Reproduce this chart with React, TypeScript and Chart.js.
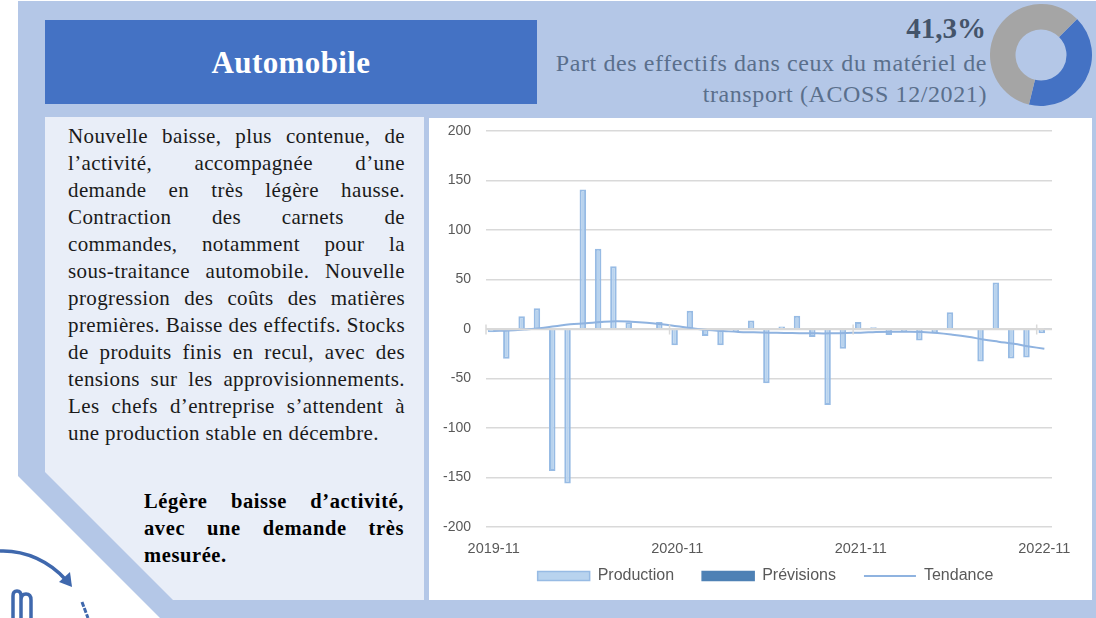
import React, { useEffect, useRef } from "react";
import { Chart, registerables } from "chart.js";

Chart.register(...registerables);

const months = [
  "2019-11","2019-12","2020-01","2020-02","2020-03","2020-04","2020-05","2020-06","2020-07","2020-08","2020-09","2020-10",
  "2020-11","2020-12","2021-01","2021-02","2021-03","2021-04","2021-05","2021-06","2021-07","2021-08","2021-09","2021-10",
  "2021-11","2021-12","2022-01","2022-02","2022-03","2022-04","2022-05","2022-06","2022-07","2022-08","2022-09","2022-10",
  "2022-11",
];
const production = [
  -3.4, -30, 13, 21, -143.5, -156, 141, 81, 63.5, 6.7, -1, 7, -16.5, 18.5, -7, -16.5, -3, 8.6,
  -54.7, 2.5, 13.5, -8, -76.7, -20, 7, 1.7, -6, -2.7, -11.5, -4.4, 17, -1, -32.8, 47, -29.7, -28.7, -4.4,
];
const previsions = [
  null,null,null,null,null,null,null,null,null,null,null,null,null,null,null,null,null,null,
  null,null,null,null,null,null,null,null,null,null,null,null,null,null,null,null,null,null,1,
];
const tendance = [
  -2, -1.5, -0.5, 0.7, 2.7, 4.7, 5.7, 7, 7.8, 7.4, 6.4, 4.7, 2.7, 0.7, -1, -2, -3, -3.4,
  -3.7, -4, -4.2, -4.4, -4.4, -4, -3.7, -3, -2.7, -2.7, -3, -4, -5.7, -7.8, -10.5, -12.8, -15, -17.6, -20,
];
const yTicks = { min: -200, max: 200, step: 50 };
const shareLabels = ["Automobile", "Autre matériel de transport"];
const shareValues = [41.3, 58.7];

const bodyLines = [
  "Nouvelle baisse, plus contenue, de",
  "l’activité, accompagnée d’une",
  "demande en très légère hausse.",
  "Contraction des carnets de",
  "commandes, notamment pour la",
  "sous-traitance automobile. Nouvelle",
  "progression des coûts des matières",
  "premières. Baisse des effectifs. Stocks",
  "de produits finis en recul, avec des",
  "tensions sur les approvisionnements.",
  "Les chefs d’entreprise s’attendent à",
  "une production stable en décembre.",
];
const conclusionLines = ["Légère baisse d’activité,", "avec une demande très", "mesurée."];

const SERIF = '"Liberation Serif", serif';
const SANS = '"Liberation Sans", Arial, sans-serif';
const GREY = "#595959";
const LINE = "#d9d9d9";

const axisMarks = {
  id: "axisMarks",
  afterDatasetsDraw(chart: any) {
    const { ctx, scales } = chart;
    const x = scales.x;
    const y0 = Math.round(scales.y.getPixelForValue(0)) + 0.5;
    const half = (x.getPixelForValue(1) - x.getPixelForValue(0)) / 2;
    ctx.save();
    ctx.strokeStyle = LINE;
    ctx.lineWidth = 1.5;
    ctx.beginPath();
    ctx.moveTo(x.left, y0);
    ctx.lineTo(x.right, y0);
    [0, 12, 24, 36].forEach((i) => {
      const px = x.getPixelForValue(i) - half;
      ctx.moveTo(px, y0 - 5);
      ctx.lineTo(px, y0 + 5);
    });
    ctx.stroke();
    ctx.restore();
  },
};

const legendShift = {
  id: "legendShift",
  afterLayout(chart: any) {
    const l = chart.legend;
    l.top -= 17;
    l.bottom -= 17;
    l.left += 25;
    l.right += 25;
    l.adjustHitBoxes();
  },
};

const abs = (left: number, top: number, width: number, height: number): React.CSSProperties => ({
  position: "absolute",
  left,
  top,
  width,
  height,
});

export default function App() {
  const mainRef = useRef<HTMLCanvasElement>(null);
  const donutRef = useRef<HTMLCanvasElement>(null);

  useEffect(() => {
    const main = new Chart(mainRef.current!, {
      type: "bar",
      data: {
        labels: months,
        datasets: [
          { type: "bar", label: "Production", data: production, backgroundColor: "#b8d3ee", borderColor: "#97bbe4", borderWidth: 2, order: 2 },
          { type: "bar", label: "Prévisions", data: previsions, backgroundColor: "#4e81b5", borderColor: "#4e81b5", borderWidth: 1, order: 2 },
          { type: "line", label: "Tendance", data: tendance, borderColor: "#8fb3e0", borderWidth: 2, pointRadius: 0, tension: 0.4, order: 1 },
        ] as any,
      },
      plugins: [axisMarks, legendShift],
      options: {
        animation: false,
        responsive: false,
        layout: { padding: { left: 0, right: 40, top: 0, bottom: 7 } },
        datasets: { bar: { categoryPercentage: 0.68, barPercentage: 1.25 } },
        scales: {
          x: {
            grid: { display: false, drawTicks: false },
            border: { display: false },
            afterFit(scale: any) {
              scale.height = 30;
            },
            ticks: {
              autoSkip: false,
              maxRotation: 0,
              minRotation: 0,
              padding: 13,
              color: GREY,
              font: { family: SANS, size: 14.5 },
              callback(_v: any, i: number) {
                return i % 12 === 0 ? months[i] : "";
              },
            },
          },
          y: {
            min: yTicks.min,
            max: yTicks.max,
            afterFit(scale: any) {
              scale.width = 57;
              scale.paddingTop = 13;
              scale.paddingBottom = 0;
            },
            grid: { color: LINE, lineWidth: 1.5, drawTicks: false },
            border: { display: false },
            ticks: { stepSize: yTicks.step, padding: 15, color: GREY, font: { family: SANS, size: 14 } },
          },
        },
        plugins: {
          tooltip: { enabled: false },
          legend: {
            position: "bottom",
            labels: {
              usePointStyle: true,
              pointStyleWidth: 52,
              boxHeight: 9,
              padding: 28,
              color: GREY,
              font: { family: SANS, size: 16 },
              generateLabels(chart: any) {
                return chart.data.datasets.map((d: any, i: number) => ({
                  text: d.label,
                  datasetIndex: i,
                  fillStyle: d.backgroundColor ?? d.borderColor,
                  strokeStyle: d.borderColor,
                  lineWidth: d.type === "line" ? 2 : 1.5,
                  pointStyle: d.type === "line" ? "line" : "rect",
                  fontColor: GREY,
                }));
              },
            },
          },
        },
      } as any,
    });

    const donut = new Chart(donutRef.current!, {
      type: "doughnut",
      data: {
        labels: shareLabels,
        datasets: [{ data: shareValues, backgroundColor: ["#4472c4", "#a5a5a5"], borderWidth: 0 }],
      },
      options: {
        animation: false,
        responsive: false,
        rotation: 45,
        cutout: "50%",
        layout: { padding: 0 },
        plugins: { legend: { display: false }, tooltip: { enabled: false } },
      },
    });

    return () => {
      main.destroy();
      donut.destroy();
    };
  }, []);

  return (
    <div style={{ ...abs(0, 0, 1096, 618), overflow: "hidden", background: "#fff", fontFamily: SERIF }}>
      <svg style={abs(0, 0, 1096, 618)} width={1096} height={618}>
        <polygon points="18,1 1096,1 1096,618 160,618 18,476" fill="#b4c7e7" />
        <polygon points="45,117 424,117 424,600 173,600 45,472" fill="#e9eef8" />
        <rect x={429} y={118} width={663} height={482} fill="#ffffff" />
        <rect x={45} y={20} width={492} height={84} fill="#4472c4" />
        <g fill="none" stroke="#3f68ad">
          <path d="M0 551 C26 550 50 562 66 580" strokeWidth={3.5} />
          <path d="M13 618 V596 Q13 591 17 591 Q21 591 21 596 V618 M21 600 Q21 594 26 594 Q31 594 31 600 V618" strokeWidth={3.5} />
          <path d="M82 602 L88 618" strokeWidth={3} strokeDasharray="5 1.5" />
        </g>
        <polygon points="72,587 59,582 70,572" fill="#3f68ad" />
      </svg>

      <div style={{ ...abs(45, 20, 492, 84), display: "flex", alignItems: "center", justifyContent: "center", color: "#fff", fontWeight: 700, fontSize: 31, letterSpacing: 0.4, paddingTop: 2, boxSizing: "border-box" }}>
        Automobile
      </div>

      <div style={{ ...abs(700, 11, 286, 34), textAlign: "right", color: "#44546a", fontWeight: 700, fontSize: 29, lineHeight: "34px" }}>
        41,3%
      </div>
      <div style={{ ...abs(500, 48, 487, 60), textAlign: "right", color: "#5a6f8c", fontSize: 24, letterSpacing: 0.6, lineHeight: "31px" }}>
        <div>Part des effectifs dans ceux du matériel de</div>
        <div>transport (ACOSS 12/2021)</div>
      </div>

      <div style={{ ...abs(68, 123, 337, 330), color: "#1a1a1a", fontSize: 21, letterSpacing: 0.38, lineHeight: "27px" }}>
        {bodyLines.map((l, i) => (
          <div key={i} style={{ whiteSpace: "nowrap", textAlign: "justify", textAlignLast: i === bodyLines.length - 1 ? "left" : "justify" }}>
            {l}
          </div>
        ))}
      </div>

      <div style={{ ...abs(144, 488, 260, 84), color: "#000", fontWeight: 700, fontSize: 20.5, letterSpacing: 0.6, lineHeight: "27px" }}>
        {conclusionLines.map((l, i) => (
          <div key={i} style={{ whiteSpace: "nowrap", textAlign: "justify", textAlignLast: i === conclusionLines.length - 1 ? "left" : "justify" }}>
            {l}
          </div>
        ))}
      </div>

      <canvas ref={mainRef} width={663} height={500} style={{ ...abs(429, 118, 663, 500), display: "block" }} />
      <canvas ref={donutRef} width={102} height={102} style={{ ...abs(990, 4, 102, 102), display: "block" }} />
    </div>
  );
}
